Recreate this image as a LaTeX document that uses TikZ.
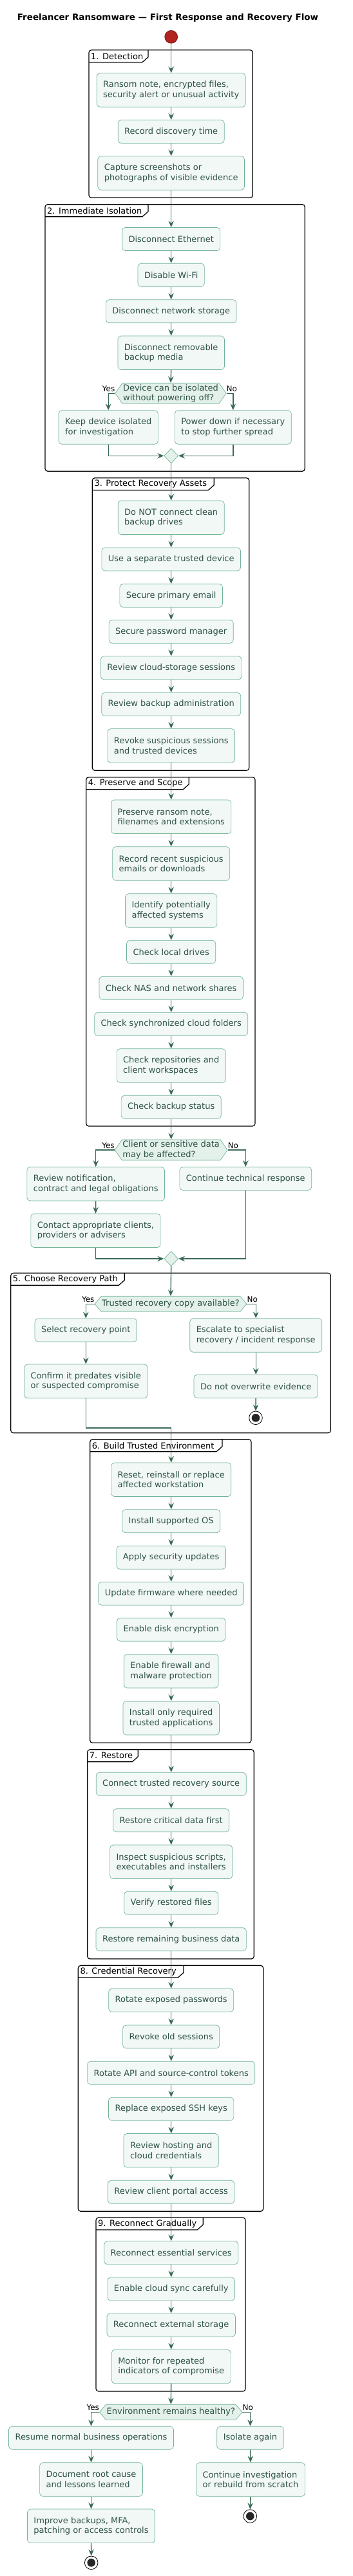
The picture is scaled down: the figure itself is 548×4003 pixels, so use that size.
\documentclass[tikz,border=0pt]{standalone}
\usepackage{fontspec}
\setmainfont{DejaVu Sans}
\usepackage{tikz}
\usetikzlibrary{arrows.meta,shapes.geometric,shapes.symbols}
\definecolor{boxfill}{HTML}{F2F8F5}
\definecolor{boxline}{HTML}{72B497}
\definecolor{boxtext}{HTML}{2E5247}
\definecolor{flowc}{HTML}{3A6A57}
\definecolor{askfill}{HTML}{E4F1EB}
\definecolor{startred}{HTML}{B0231E}

\begin{document}
\begin{tikzpicture}[x=1pt, y=-1pt,
    act/.style={draw=boxline, fill=boxfill, text=boxtext, rounded corners=5pt, line width=0.7pt,
      font=\fontsize{13}{15.5}\selectfont, align=left, inner xsep=10pt, inner ysep=3pt, minimum height=36pt},
    act2/.style={act, minimum height=52.5pt},
    ask/.style={signal, signal to=west and east, signal pointer angle=110, draw=boxline, fill=askfill,
      text=boxtext, line width=0.7pt, font=\fontsize{13}{15.5}\selectfont, align=left,
      inner xsep=1pt, inner ysep=2pt, minimum height=32pt},
    ask1/.style={ask, signal pointer angle=100, minimum height=24pt},
    merge/.style={diamond, draw=boxline, fill=askfill, line width=0.7pt, minimum width=22pt,
      minimum height=23pt, inner sep=0pt},
    stopnode/.style={circle, draw=black, line width=0.8pt, fill=white, minimum size=20.6pt, inner sep=0pt,
      path picture={\fill[black!85] (path picture bounding box.center) circle (6.3pt);}},
    flow/.style={draw=flowc, line width=1.4pt, -{Stealth[length=10pt,width=8.5pt,inset=3.5pt]}},
    lbl/.style={font=\fontsize{12}{14}\selectfont, inner sep=0pt},
    frame/.style={draw=black, line width=1.2pt, rounded corners=4pt},
    grouptitle/.style={font=\fontsize{13}{15.5}\selectfont, inner sep=0pt}]
    \useasboundingbox (0,0) rectangle (548,4003);
    \def\colx{265.7}
    \def\partframe#1#2#3#4#5#6#7{
      \draw[frame] (#2,#3) rectangle (#4,#5);
      \draw[frame, rounded corners=0pt] (#2,#3+19) -- (#6-9,#3+19) -- (#6,#3+11) -- (#6,#3);
      \node[grouptitle, anchor=west] (#1) at (#2+3,#3+9.5) {#7};
    }

    \partframe{g1}{138}{77.7}{392.3}{307.3}{230}{1. Detection}
    \partframe{g2}{70}{317.7}{473.3}{732.3}{230}{2. Immediate Isolation}
    \partframe{g3}{143.3}{742.7}{386.7}{1197.3}{332.3}{3. Protect Recovery Assets}
    \partframe{g4}{133.7}{1207.7}{396}{1750}{293.3}{4. Preserve and Scope}
    \partframe{g5}{16.7}{1978.3}{513.3}{2226.7}{193.3}{5. Choose Recovery Path}
    \partframe{g6}{139.7}{2236.7}{390}{2708.3}{345}{6. Build Trusted Environment}
    \partframe{g7}{135.7}{2718.7}{394.3}{3044}{214.3}{7. Restore}
    \partframe{g8}{121.3}{3054.3}{408.7}{3436.3}{285}{8. Credential Recovery}
    \partframe{g9}{149}{3446}{381}{3716}{315.3}{9. Reconnect Gradually}

    \node[font=\bfseries\fontsize{13.5}{16}\selectfont] (title) at (260.5,28) {Freelancer Ransomware — First Response and Recovery Flow};
    \node[circle, fill=startred, draw=startred!60!black, line width=0.6pt, minimum size=20pt, inner sep=0pt] (start) at (\colx,57.3) {};

    \node[act2] (d1) at (\colx,140) {Ransom note, encrypted files,\\security alert or unusual activity};
    \node[act] (d2) at (\colx,204.5) {Record discovery time};
    \node[act2] (d3) at (\colx,269) {Capture screenshots or\\photographs of visible evidence};

    \node[act] (i1) at (\colx,371.5) {Disconnect Ethernet};
    \node[act] (i2) at (\colx,427.3) {Disable Wi-Fi};
    \node[act] (i3) at (\colx,483.8) {Disconnect network storage};
    \node[act2] (i4) at (\colx,548.3) {Disconnect removable\\backup media};
    \node[ask] (q1) at (265,611.2) {Device can be isolated\\without powering off?};
    \node[act2] (i5) at (168.2,664) {Keep device isolated\\for investigation};
    \node[act2] (i6) at (361.8,664) {Power down if necessary\\to stop further spread};
    \node[merge] (m1) at (\colx,708.3) {};

    \node[act2] (p1) at (\colx,804.3) {Do NOT connect clean\\backup drives};
    \node[act] (p2) at (\colx,869) {Use a separate trusted device};
    \node[act] (p3) at (\colx,925.5) {Secure primary email};
    \node[act] (p4) at (\colx,981.5) {Secure password manager};
    \node[act] (p5) at (\colx,1037.8) {Review cloud-storage sessions};
    \node[act] (p6) at (\colx,1094.3) {Review backup administration};
    \node[act2] (p7) at (\colx,1158.8) {Revoke suspicious sessions\\and trusted devices};

    \node[act2] (s1) at (\colx,1269.2) {Preserve ransom note,\\filenames and extensions};
    \node[act2] (s2) at (\colx,1342) {Record recent suspicious\\emails or downloads};
    \node[act2] (s3) at (\colx,1415) {Identify potentially\\affected systems};
    \node[act] (s4) at (\colx,1479.2) {Check local drives};
    \node[act] (s5) at (\colx,1535.3) {Check NAS and network shares};
    \node[act] (s6) at (\colx,1591.3) {Check synchronized cloud folders};
    \node[act2] (s7) at (\colx,1656) {Check repositories and\\client workspaces};
    \node[act] (s8) at (\colx,1720.3) {Check backup status};

    \node[ask] (q2) at (\colx,1787) {Client or sensitive data\\may be affected?};
    \node[act2] (c1) at (148.7,1839.8) {Review notification,\\contract and legal obligations};
    \node[act] (c2) at (381.3,1831.5) {Continue technical response};
    \node[act2] (c3) at (148.5,1912.3) {Contact appropriate clients,\\providers or advisers};
    \node[merge] (m2) at (\colx,1956) {};

    \node[ask1] (q3) at (265,2026.3) {Trusted recovery copy available?};
    \node[act] (r1) at (133.3,2067) {Select recovery point};
    \node[act2] (r2) at (133.3,2146.3) {Confirm it predates visible\\or suspected compromise};
    \node[act2] (r3) at (397.2,2075) {Escalate to specialist\\recovery / incident response};
    \node[act] (r4) at (397.2,2154.3) {Do not overwrite evidence};
    \node[stopnode] (e1) at (397,2203.3) {};
    \coordinate (j5) at (\colx,2219);

    \node[act2] (b1) at (\colx,2299.3) {Reset, reinstall or replace\\affected workstation};
    \node[act] (b2) at (\colx,2363.7) {Install supported OS};
    \node[act] (b3) at (\colx,2420.3) {Apply security updates};
    \node[act] (b4) at (\colx,2476.3) {Update firmware where needed};
    \node[act] (b5) at (\colx,2532.3) {Enable disk encryption};
    \node[act2] (b6) at (\colx,2596.8) {Enable firewall and\\malware protection};
    \node[act2] (b7) at (\colx,2669.8) {Install only required\\trusted applications};

    \node[act] (t1) at (\colx,2772.3) {Connect trusted recovery source};
    \node[act] (t2) at (\colx,2828.7) {Restore critical data first};
    \node[act2] (t3) at (\colx,2893.3) {Inspect suspicious scripts,\\executables and installers};
    \node[act] (t4) at (\colx,2957.2) {Verify restored files};
    \node[act] (t5) at (\colx,3013.7) {Restore remaining business data};

    \node[act] (k1) at (\colx,3108.3) {Rotate exposed passwords};
    \node[act] (k2) at (\colx,3165) {Revoke old sessions};
    \node[act] (k3) at (\colx,3221.2) {Rotate API and source-control tokens};
    \node[act] (k4) at (\colx,3277.2) {Replace exposed SSH keys};
    \node[act2] (k5) at (\colx,3341.8) {Review hosting and\\cloud credentials};
    \node[act] (k6) at (\colx,3406.3) {Review client portal access};

    \node[act] (n1) at (\colx,3500.7) {Reconnect essential services};
    \node[act] (n2) at (\colx,3557) {Enable cloud sync carefully};
    \node[act] (n3) at (\colx,3613) {Reconnect external storage};
    \node[act2] (n4) at (\colx,3677.5) {Monitor for repeated\\indicators of compromise};

    \node[ask1] (q4) at (265.3,3748.3) {Environment remains healthy?};
    \node[act] (f1) at (141.5,3788.3) {Resume normal business operations};
    \node[act2] (f2) at (141.5,3853) {Document root cause\\and lessons learned};
    \node[act2] (f3) at (141.5,3925.3) {Improve backups, MFA,\\patching or access controls};
    \node[stopnode] (e2) at (141.7,3982.3) {};
    \node[act] (h1) at (388.5,3788.3) {Isolate again};
    \node[act2] (h2) at (389,3853) {Continue investigation\\or rebuild from scratch};
    \node[stopnode] (e3) at (388.3,3910) {};

    \foreach \a/\b in {start/d1, d1/d2, d2/d3, d3/i1, i1/i2, i2/i3, i3/i4, i4/q1, m1/p1, p1/p2, p2/p3,
        p3/p4, p4/p5, p5/p6, p6/p7, p7/s1, s1/s2, s2/s3, s3/s4, s4/s5, s5/s6, s6/s7, s7/s8, s8/q2,
        c1/c3, m2/q3, r1/r2, r3/r4, r4/e1, b1/b2, b2/b3, b3/b4, b4/b5, b5/b6, b6/b7, b7/t1, t1/t2,
        t2/t3, t3/t4, t4/t5, t5/k1, k1/k2, k2/k3, k3/k4, k4/k5, k5/k6, k6/n1, n1/n2, n2/n3, n3/n4,
        n4/q4, f1/f2, f2/f3, f3/e2, h1/h2, h2/e3}
      \draw[flow] (\a.south) -- (\b.north);

    \draw[flow] (q1.west) -| (i5.north);
    \draw[flow] (q1.east) -| (i6.north);
    \draw[flow] (i5.south) |- (m1.west);
    \draw[flow] (i6.south) |- (m1.east);
    \draw[flow] (q2.west) -| (c1.north);
    \draw[flow] (q2.east) -| (c2.north);
    \draw[flow] (c3.south) |- (m2.west);
    \draw[flow] (c2.south) |- (m2.east);
    \draw[flow] (q3.west) -| (r1.north);
    \draw[flow] (q3.east) -| (r3.north);
    \draw[flow] (r2.south) |- (j5) -- (b1.north);
    \draw[flow] (q4.west) -| (f1.north);
    \draw[flow] (q4.east) -| (h1.north);

    \foreach \q in {q1, q2, q3, q4} {
      \node[lbl, anchor=base east, yshift=3pt] (\q yes) at (\q.west) {Yes};
      \node[lbl, anchor=base west, yshift=3pt] (\q no) at (\q.east) {No};
    }
\end{tikzpicture}
\end{document}
